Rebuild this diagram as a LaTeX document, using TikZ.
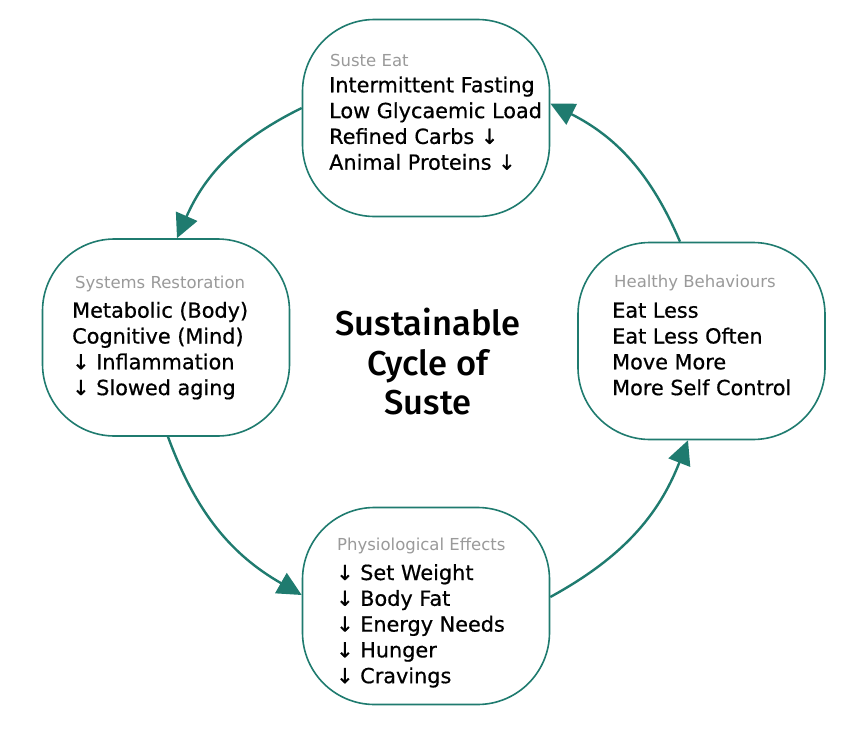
\documentclass[tikz,border=0pt]{standalone}
\usepackage{fontspec}
\setmainfont{DejaVu Sans}
\newfontfamily\titlefont{Fira Sans Medium}
\newfontfamily\bodyfont[FakeBold=0.6]{DejaVu Sans}
\usetikzlibrary{arrows.meta}
\definecolor{teal1}{RGB}{31,123,111}
\definecolor{greylbl}{RGB}{154,154,154}
\tikzset{
  cyclebox/.style={draw=teal1, line width=1.6pt, rounded corners=72pt, minimum width=247pt, minimum height=197pt, inner sep=0pt, fill=white},
  lbl/.style={anchor=base west, inner sep=0pt, text=greylbl, font=\fontsize{16.5}{20}\selectfont},
  itm/.style={anchor=base west, inner sep=0pt, text=black, font=\bodyfont\fontsize{20.8}{24}\selectfont},
  flow/.style={draw=teal1, line width=2.4pt, -{Triangle[length=24pt,width=23pt]}, bend right=20}
}
\begin{document}
\begin{tikzpicture}[x=1pt,y=-1pt]
\useasboundingbox (0,0) rectangle (844,731);
\node[cyclebox] (top) at (426,118) {};
\node[cyclebox] (left) at (166,337.5) {};
\node[cyclebox] (right) at (701.5,341) {};
\node[cyclebox] (bottom) at (426,606) {};

\node[lbl] (t0) at (330,66.7) {Suste Eat};
\node[itm] (t1) at (329,92.3) {Intermittent Fasting};
\node[itm] (t2) at (329,118.1) {Low Glycaemic Load};
\node[itm] (t3) at (329,143.9) {Refined Carbs ↓};
\node[itm] (t4) at (329,169.7) {Animal Proteins ↓};

\node[lbl] (l0) at (75,288.3) {Systems Restoration};
\node[itm] (l1) at (72,317.7) {Metabolic (Body)};
\node[itm] (l2) at (72,343.5) {Cognitive (Mind)};
\node[itm] (l3) at (72,369.3) {↓ Inflammation};
\node[itm] (l4) at (72,395.1) {↓ Slowed aging};

\node[lbl] (r0) at (614,287.7) {Healthy Behaviours};
\node[itm] (r1) at (612,317.7) {Eat Less};
\node[itm] (r2) at (612,343.5) {Eat Less Often};
\node[itm] (r3) at (612,369.3) {Move More};
\node[itm] (r4) at (612,395.1) {More Self Control};

\node[lbl] (b0) at (337,550.7) {Physiological Effects};
\node[itm] (b1) at (336,580) {↓ Set Weight};
\node[itm] (b2) at (336,605.8) {↓ Body Fat};
\node[itm] (b3) at (336,631.6) {↓ Energy Needs};
\node[itm] (b4) at (336,657.4) {↓ Hunger};
\node[itm] (b5) at (336,683.2) {↓ Cravings};

\node[align=center, inner sep=0pt, font={\titlefont\fontsize{34.5}{39.5}\selectfont}] (title) at (428,362) {Sustainable\\Cycle of\\Suste};

\draw[flow] ([yshift=10pt]top.west) to ([xshift=11pt]left.north);
\draw[flow] ([xshift=2pt]left.south) to ([yshift=11pt]bottom.west);
\draw[flow] ([yshift=9pt]bottom.east) to ([xshift=-13.5pt]right.south);
\draw[flow] ([xshift=-21.5pt]right.north) to ([yshift=14.5pt]top.east);
\end{tikzpicture}
\end{document}
